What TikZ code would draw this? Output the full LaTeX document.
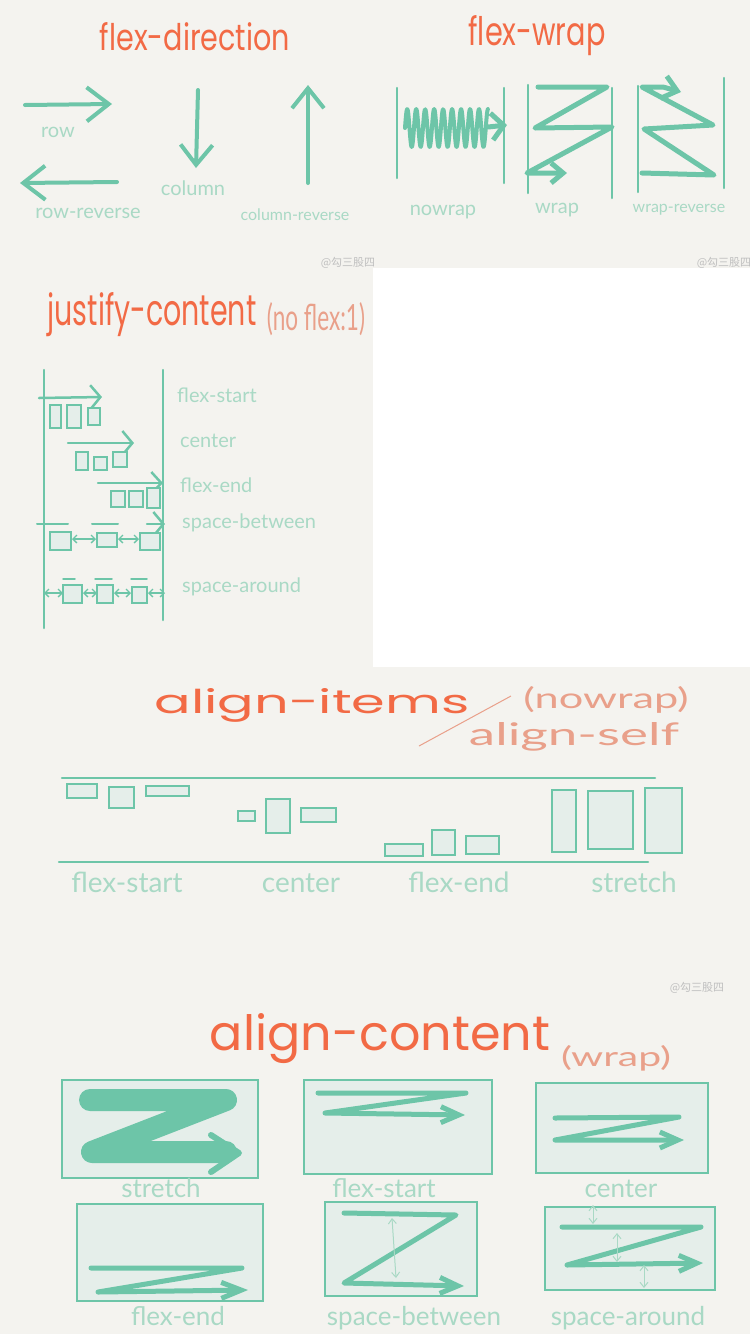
\documentclass[tikz,border=0pt]{standalone}
\usepackage{fontspec}
\newfontfamily\ttlfont{Poppins}
\newfontfamily\lblfont{Lato}
\newfontfamily\cjkfont{Noto Sans CJK SC}
\usetikzlibrary{arrows.meta}

\definecolor{paper}{HTML}{F4F3EF}
\definecolor{ttl}{HTML}{F26A45}
\definecolor{ttlsoft}{HTML}{E9A08A}
\definecolor{mint}{HTML}{6DC5A8}
\definecolor{mintsoft}{HTML}{A9D9C5}
\definecolor{boxfill}{HTML}{E5EEEA}

\tikzset{
  mintpen/.style={draw=mint, line width=#1, line cap=round, line join=round},
  mintpen/.default=4pt,
  tip/.style 2 args={-{Straight Barb[length=#1,width=#2]}},
  ttlnode/.style={text=ttl, font=\ttlfont, inner sep=0pt, anchor=base},
  softnode/.style={text=ttlsoft, font=\lblfont, inner sep=0pt, anchor=base},
  lbl/.style={text=mintsoft, font=\lblfont\fontsize{#1}{#1}\selectfont, inner sep=0pt, anchor=base},
  lbl/.default=20,
  item/.style={draw=mint, fill=boxfill, line width=1.5pt},
  panel/.style={draw=mint, fill=boxfill, line width=2pt},
  gap/.style={draw=mint, line width=1.3pt, {Straight Barb[length=4pt,width=8pt]}-{Straight Barb[length=4pt,width=8pt]}},
  softgap/.style={draw=mintsoft, line width=1pt, {Straight Barb[length=5pt,width=8pt]}-{Straight Barb[length=5pt,width=8pt]}},
  wmark/.style={text=black!25, font=\cjkfont\fontsize{11}{11}\selectfont, inner sep=0pt}
}

\begin{document}
\begin{tikzpicture}[x=1pt,y=-1pt]

\useasboundingbox (0,0) rectangle (750,1334);
\fill[paper] (0,0) rectangle (750,1334);
\fill[white] (373,268) rectangle (750,667);

% flex-direction
\node[ttlnode] (dirTitle) at (195,50) {\resizebox{190pt}{28pt}{flex-direction}};
\draw[mintpen, tip={22pt}{34pt}] (25,105) -- (112,104);
\draw[mintpen, tip={22pt}{34pt}] (117,182) -- (20,183);
\draw[mintpen, tip={20pt}{32pt}] (198,90) -- (196,168);
\draw[mintpen, tip={20pt}{32pt}] (308,183) -- (308,85);
\node[lbl] (dirRow) at (58,137) {row};
\node[lbl] (dirRowRev) at (88,218) {row-reverse};
\node[lbl] (dirCol) at (193,195) {column};
\node[lbl=16] (dirColRev) at (295,220) {column-reverse};

% flex-wrap
\node[ttlnode] (wrapTitle) at (537,45) {\resizebox{137pt}{30pt}{flex-wrap}};
\foreach \xa/\ya/\yb in {397/88/178, 504/88/183, 528/85/193, 612/88/198, 638/86/192, 724/78/188}
  \draw[mintpen=2.5pt] (\xa,\ya) -- (\xa,\yb);
\draw[mintpen=4pt] plot[smooth, domain=0:1, samples=163] ({405+83*\x},{128-19*sin(3330*\x)});
\draw[mintpen=5pt, tip={12pt}{27pt}] (488,127) -- (507,125);
\draw[mintpen=5pt, tip={12pt}{20pt}] (538,87) -- (607,87) -- (535,128) -- (612,127) -- (527,173) -- (567,173);
\draw[mintpen=5pt, tip={14pt}{23pt}] (642,173) -- (714,175) -- (644,129) -- (713,125) -- (642,87) -- (663,87) -- (681,92);
\node[lbl] (wrapNo) at (443,215) {nowrap};
\node[lbl] (wrapYes) at (557,213) {wrap};
\node[lbl=16] (wrapRev) at (679,212) {wrap-reverse};
\node[wmark] (markA) at (348,263) {@勾三股四};
\node[wmark] (markB) at (724,263) {@勾三股四};

% justify-content
\node[ttlnode] (jcTitle) at (152,325) {\resizebox{209pt}{33pt}{justify-content}};
\node[softnode] (jcNote) at (316,330) {\resizebox{98pt}{28pt}{(no flex:1)}};
\draw[mintpen=2.5pt] (44,370) -- (44,628);
\draw[mintpen=2.5pt] (163,370) -- (163,620);
% flex-start
\draw[mintpen=2.5pt, tip={10pt}{24pt}] (39,398) -- (102,397);
\draw[item] (50,405) rectangle (61,428) (67,405) rectangle (81,428) (88,408) rectangle (100,425);
% center
\draw[mintpen=2.5pt, tip={10pt}{24pt}] (68,443) -- (134,443);
\draw[item] (76,452) rectangle (88,470) (94,457) rectangle (107,470) (113,452) rectangle (127,467);
% flex-end
\draw[mintpen=2.5pt, tip={10pt}{22pt}] (98,483) -- (163,483);
\draw[item] (111,491) rectangle (125,507) (129,491) rectangle (143,507) (147,488) rectangle (160,508);
% space-between
\draw[mintpen=2pt] (37,524) -- (68,524) (92,524) -- (118,524);
\draw[mintpen=2.5pt, tip={10pt}{24pt}] (147,524) -- (165,524);
\draw[item] (50,532) rectangle (71,550) (97,533) rectangle (117,547) (140,533) rectangle (160,550);
\draw[gap] (72,539) -- (96,539);
\draw[gap] (118,539) -- (139,539);
% space-around
\draw[mintpen=1.5pt] (63,579) -- (75,579) (95,579) -- (112,579) (131,579) -- (147,579);
\draw[item] (63,585) rectangle (82,603) (97,585) rectangle (113,603) (132,587) rectangle (147,603);
\draw[gap] (44,593) -- (63,593);
\draw[gap] (83,593) -- (97,593);
\draw[gap] (114,593) -- (131,593);
\draw[gap] (148,593) -- (165,593);
\node[lbl, anchor=base west] (jcStart) at (177,402) {flex-start};
\node[lbl, anchor=base west] (jcCenter) at (180,447) {center};
\node[lbl, anchor=base west] (jcEnd) at (180,492) {flex-end};
\node[lbl, anchor=base west] (jcBetween) at (182,528) {space-between};
\node[lbl, anchor=base west] (jcAround) at (182,592) {space-around};

% align-items / align-self
\node[ttlnode] (aiTitle) at (312,713) {\resizebox{315pt}{25pt}{align-items}};
\draw[draw=ttlsoft, line width=1pt] (419,746) -- (511,696);
\node[softnode] (aiNote) at (606,708) {\resizebox{165pt}{22pt}{(nowrap)}};
\node[softnode] (aiSelf) at (574,745) {\resizebox{210pt}{23pt}{align-self}};
\draw[mintpen=2.5pt] (62,778) -- (655,778);
\draw[mintpen=2.5pt] (59,862) -- (648,862);
\draw[item] (67,784) rectangle (97,798) (109,787) rectangle (134,808) (146,786) rectangle (189,796);
\draw[item] (238,811) rectangle (255,821) (266,799) rectangle (290,833) (301,808) rectangle (336,822);
\draw[item] (385,844) rectangle (423,856) (432,830) rectangle (455,855) (466,836) rectangle (499,854);
\draw[item] (552,790) rectangle (576,852) (588,791) rectangle (633,849) (645,788) rectangle (682,853);
\node[lbl=28] (aiStart) at (127,892) {flex-start};
\node[lbl=28] (aiCenter) at (301,892) {center};
\node[lbl=28] (aiEnd) at (459,892) {flex-end};
\node[lbl=28] (aiStretch) at (634,892) {stretch};
\node[wmark] (markC) at (697,988) {@勾三股四};

% align-content
\node[ttlnode] (acTitle) at (380,1050) {\resizebox{340pt}{37pt}{align-content}};
\node[softnode] (acNote) at (616,1066) {\resizebox{110pt}{21pt}{(wrap)}};
\draw[panel] (62,1080) rectangle (258,1178);
\draw[panel] (304,1080) rectangle (492,1174);
\draw[panel] (536,1083) rectangle (708,1173);
\draw[panel] (77,1204) rectangle (263,1301);
\draw[panel] (325,1202) rectangle (477,1296);
\draw[panel] (545,1207) rectangle (715,1290);
% stretch
\draw[mintpen=22pt] (90,1100) -- (226,1100) -- (92,1152) -- (226,1152);
\draw[mintpen=6pt] (211,1135) -- (239,1153) -- (211,1172);
% flex-start, center, flex-end
\draw[mintpen=5pt, tip={18pt}{16pt}] (318,1093) -- (466,1093) -- (325,1113) -- (465,1115);
\draw[mintpen=5pt, tip={18pt}{16pt}] (555,1118) -- (679,1117) -- (555,1140) -- (684,1140);
\draw[mintpen=5pt, tip={20pt}{16pt}] (91,1268) -- (242,1268) -- (98,1292) -- (248,1290);
% space-between
\draw[mintpen=5pt, tip={18pt}{16pt}] (344,1213) -- (456,1215) -- (344,1283) -- (464,1286);
\draw[softgap] (392,1218) -- (396,1278);
% space-around
\draw[mintpen=5pt, tip={18pt}{16pt}] (562,1227) -- (701,1227) -- (567,1265) -- (703,1263);
\draw[softgap] (593,1205) -- (593,1224);
\draw[softgap] (617,1233) -- (617,1262);
\draw[softgap] (644,1265) -- (644,1288);
\node[lbl=26] (acStretch) at (161,1197) {stretch};
\node[lbl=26] (acStart) at (384,1197) {flex-start};
\node[lbl=26] (acCenter) at (621,1197) {center};
\node[lbl=26] (acEnd) at (178,1325) {flex-end};
\node[lbl=26] (acBetween) at (414,1325) {space-between};
\node[lbl=26] (acAround) at (628,1325) {space-around};

\end{tikzpicture}
\end{document}
